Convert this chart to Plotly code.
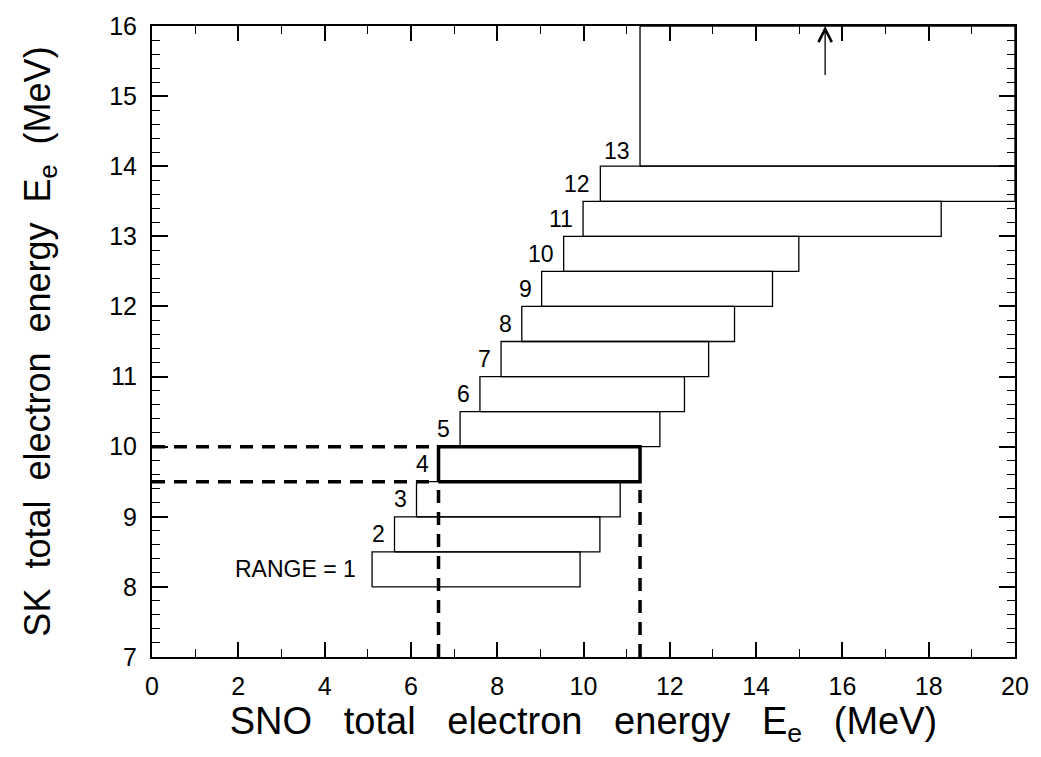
import plotly.graph_objects as go

# Data: energy ranges (SNO vs SK total electron energy, MeV)
range_id = [1, 2, 3, 4, 5, 6, 7, 8, 9, 10, 11, 12, 13]
sk_lo = [8.0, 8.5, 9.0, 9.5, 10.0, 10.5, 11.0, 11.5, 12.0, 12.5, 13.0, 13.5, 14.0]
sk_hi = [8.5, 9.0, 9.5, 10.0, 10.5, 11.0, 11.5, 12.0, 12.5, 13.0, 13.5, 14.0, 16.0]
sno_lo = [5.10, 5.62, 6.13, 6.64, 7.14, 7.60, 8.09, 8.57, 9.03, 9.54, 9.99, 10.39, 11.31]
sno_hi = [9.92, 10.38, 10.85, 11.31, 11.77, 12.34, 12.90, 13.50, 14.38, 14.99, 18.29, 20.0, 20.0]
highlight = 4
arrow_x = 15.6
arrow_y = [15.28, 16.0]

x_range = [0, 20]
y_range = [7, 16]
x_ticks = [0, 2, 4, 6, 8, 10, 12, 14, 16, 18, 20]
y_ticks = [7, 8, 9, 10, 11, 12, 13, 14, 15, 16]

FONT = "Liberation Sans"
NB = "\u00a0"

fig = go.Figure()

for i, r in enumerate(range_id):
    x0, x1, y0, y1 = sno_lo[i], sno_hi[i], sk_lo[i], sk_hi[i]
    thick = (r == highlight)
    fig.add_trace(go.Scatter(
        x=[x0, x1, x1, x0, x0], y=[y0, y0, y1, y1, y0],
        mode="lines", line=dict(color="black", width=3.5 if thick else 1.3),
        hoverinfo="skip", showlegend=False))

# dashed guide lines for the highlighted range
hi = range_id.index(highlight)
dash_style = dict(color="black", width=3.5, dash="13px,9px")
fig.add_trace(go.Scatter(x=[x_range[0], sno_lo[hi]], y=[sk_hi[hi], sk_hi[hi]],
                         mode="lines", line=dash_style, showlegend=False, hoverinfo="skip"))
fig.add_trace(go.Scatter(x=[x_range[0], sno_lo[hi]], y=[sk_lo[hi], sk_lo[hi]],
                         mode="lines", line=dash_style, showlegend=False, hoverinfo="skip"))
fig.add_trace(go.Scatter(x=[sno_lo[hi], sno_lo[hi]], y=[y_range[0], sk_lo[hi]],
                         mode="lines", line=dash_style, showlegend=False, hoverinfo="skip"))
fig.add_trace(go.Scatter(x=[sno_hi[hi], sno_hi[hi]], y=[y_range[0], sk_lo[hi]],
                         mode="lines", line=dash_style, showlegend=False, hoverinfo="skip"))

# labels
for i, r in enumerate(range_id):
    txt = "RANGE = 1" if r == 1 else str(r)
    yv = (sk_lo[i] + sk_hi[i]) / 2 if r != 13 else sk_lo[i] + 0.22
    fig.add_annotation(x=sno_lo[i], y=yv, text=txt, showarrow=False,
                       xanchor="right", yanchor="middle", xshift=-8 if r != 1 else -14,
                       font=dict(family=FONT, size=23, color="black"))

# arrow
fig.add_annotation(x=arrow_x, y=arrow_y[1], ax=arrow_x, ay=arrow_y[0],
                   xref="x", yref="y", axref="x", ayref="y",
                   showarrow=True, arrowhead=5, arrowsize=2, arrowwidth=1.3,
                   arrowcolor="black", text="")

axis_common = dict(showline=True, linecolor="black", linewidth=2, mirror="ticks",
                   ticks="inside", tickcolor="black", showgrid=False, zeroline=False,
                   tickfont=dict(family=FONT, size=25, color="black"))

x_title = (NB * 3).join(["SNO", "total", "electron", "energy", "E<sub>e</sub>", "(MeV)"])
y_title = (NB * 2).join(["SK", "total", "electron", "energy", "E<sub>e</sub>", "(MeV)"])

fig.update_xaxes(range=x_range, tickvals=x_ticks, ticklen=15, tickwidth=1.5,
                 ticklabelstandoff=6,
                 minor=dict(dtick=1, ticklen=8, tickwidth=1.2, ticks="inside", tickcolor="black"),
                 title=dict(text=x_title,
                            font=dict(family=FONT, size=38, color="black"), standoff=6),
                 **axis_common)
fig.update_yaxes(range=y_range, tickvals=y_ticks, ticklen=16, tickwidth=1.5,
                 ticklabelstandoff=8,
                 minor=dict(dtick=0.2, ticklen=8, tickwidth=1.2, ticks="inside", tickcolor="black"),
                 title=dict(text=y_title,
                            font=dict(family=FONT, size=36, color="black"), standoff=48),
                 **axis_common)

fig.update_layout(width=1041, height=757, margin=dict(l=152, r=21, t=19, b=100),
                  plot_bgcolor="white", paper_bgcolor="white")

fig.write_html("out.html")
